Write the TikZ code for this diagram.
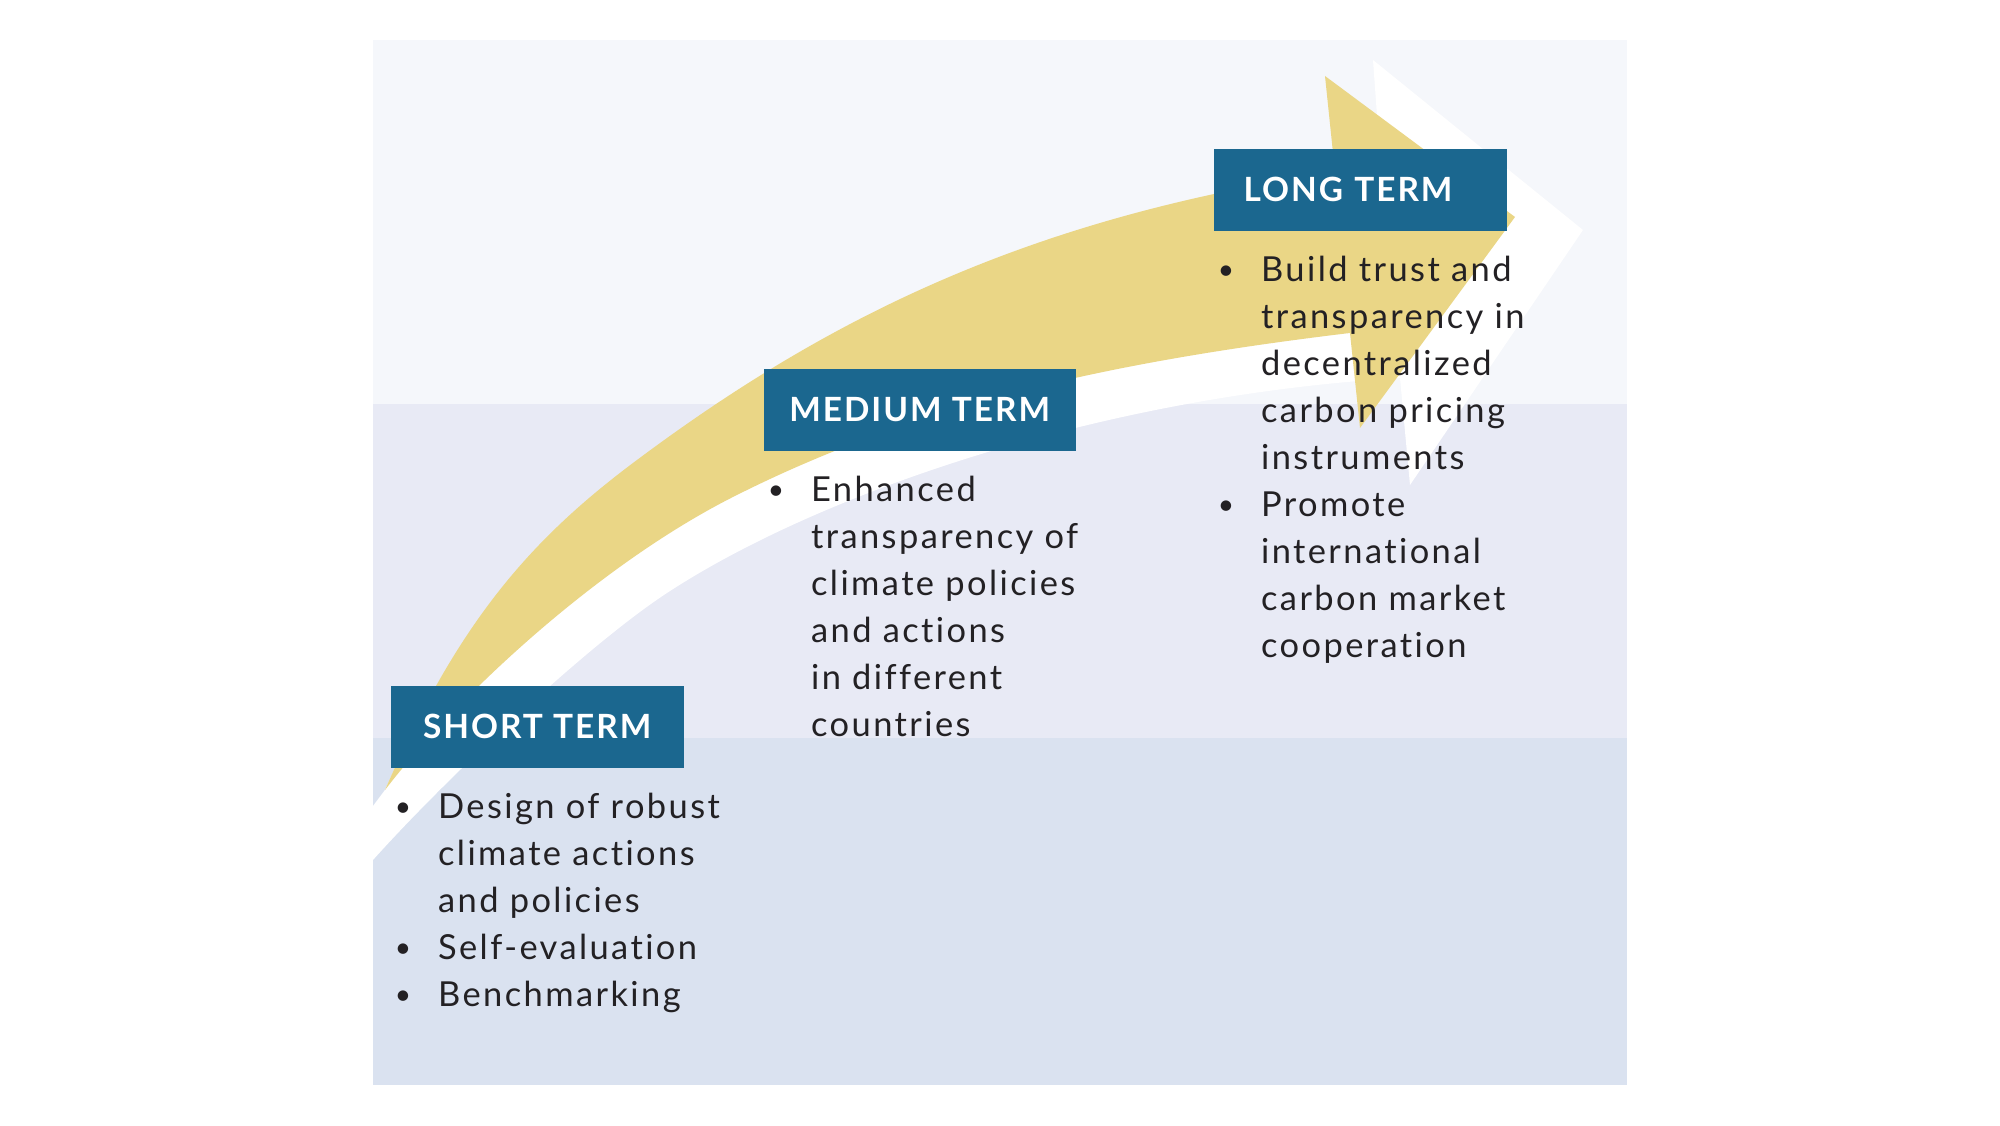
\documentclass[tikz,border=0pt]{standalone}
\usepackage{fontspec}
\setmainfont{Lato}[LetterSpace=7, Ligatures=NoCommon]
\newfontfamily\headfont{Lato}[LetterSpace=6]
\usetikzlibrary{positioning}

\definecolor{termblue}{RGB}{27,103,143}
\definecolor{arrowgold}{RGB}{234,214,134}
\definecolor{bandtop}{RGB}{245,247,251}
\definecolor{bandmid}{RGB}{232,234,245}
\definecolor{bandlow}{RGB}{218,226,240}
\definecolor{bodytext}{RGB}{35,33,36}

\newcommand{\bul}{\makebox[7pt]{\raisebox{0.7pt}{\fontsize{8}{8}\selectfont\textbullet}}}

\begin{document}
\begin{tikzpicture}[x=0.1mm, y=-0.1mm,
    termbox/.style={fill=termblue, text=white, anchor=north west, inner xsep=3mm, inner ysep=0pt, minimum height=8.2mm, font=\headfont\bfseries\fontsize{9.5}{11.4}\selectfont},
    termlist/.style={anchor=north west, inner sep=0pt, text=bodytext, font=\fontsize{9.8}{13.37}\selectfont}]
    \useasboundingbox (0,0) rectangle (2000,1126);

    % background bands
    \fill[bandtop] (373,40) rectangle (1627,404);
    \fill[bandmid] (373,404) rectangle (1627,738);
    \fill[bandlow] (373,738) rectangle (1627,1085);

    % white arrow lying behind the gold one
    \fill[white] (373,806) -- (385,790) .. controls (455,632) and (535,555) .. (640,478)
        .. controls (840,328) and (1040,230) .. (1382,185)
        -- (1373,60) -- (1583,230) -- (1410,485) -- (1400,378)
        .. controls (1100,396) and (818,494) .. (667,593)
        .. controls (583,648) and (440,785) .. (373,860) -- cycle;

    % gold arrow
    \fill[arrowgold] (385,790) .. controls (457,624) and (529,541) .. (633,463)
        .. controls (833,313) and (1035,217) .. (1335,172)
        -- (1325,76) -- (1515,217) -- (1360,428) -- (1350,333)
        .. controls (1100,363) and (911,407) .. (733,497)
        .. controls (599.5,564.5) and (458,695) .. (385,790) -- cycle;

    \node[termbox, minimum width=29.3mm] (shortterm) at (390,685) {SHORT TERM};
    \node[termbox, minimum width=31.2mm, inner xsep=2mm] (mediumterm) at (763,368) {MEDIUM TERM};
    \node[termbox, text width=23.3mm, align=left] (longterm) at (1213,148) {LONG TERM};

    \node[termlist, below=1.7mm of shortterm.south west, anchor=north west] (shortlist) {%
        \begin{tabular}{@{}l@{\hspace{6.5pt}}l@{}}
            \bul & Design of robust\\
                 & climate actions\\
                 & and policies\\
            \bul & Self-evaluation\\
            \bul & Benchmarking
        \end{tabular}};
    \node[termlist, below=1.7mm of mediumterm.south west, anchor=north west] (mediumlist) {%
        \begin{tabular}{@{}l@{\hspace{6.5pt}}l@{}}
            \bul & Enhanced\\
                 & transparency of\\
                 & climate policies\\
                 & and actions\\
                 & in different\\
                 & countries
        \end{tabular}};
    \node[termlist, below=1.7mm of longterm.south west, anchor=north west] (longlist) {%
        \begin{tabular}{@{}l@{\hspace{6.5pt}}l@{}}
            \bul & Build trust and\\
                 & transparency in\\
                 & decentralized\\
                 & carbon pricing\\
                 & instruments\\
            \bul & Promote\\
                 & international\\
                 & carbon market\\
                 & cooperation
        \end{tabular}};
\end{tikzpicture}
\end{document}
